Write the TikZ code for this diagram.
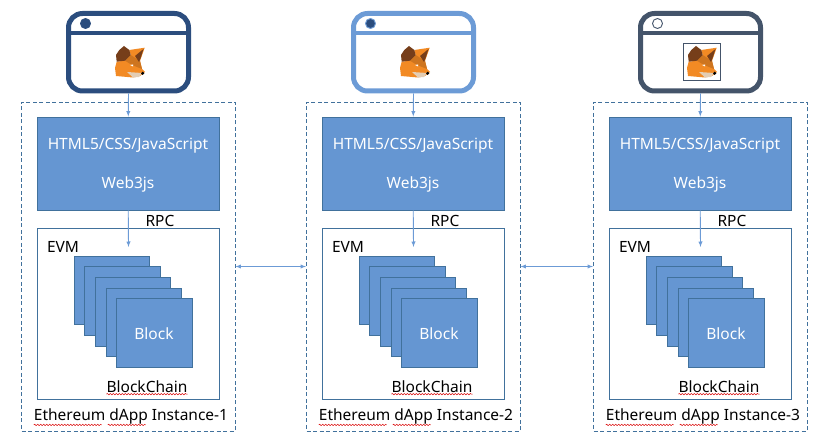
\documentclass[tikz,border=0pt]{standalone}
\usepackage{fontspec}
\setmainfont{Noto Sans}
\usetikzlibrary{calc}
\usetikzlibrary{decorations.pathmorphing}
\definecolor{boxblue}{HTML}{6596D2}
\definecolor{edgeblue}{HTML}{41719C}
\definecolor{linkblue}{HTML}{6C9BD6}
\definecolor{navy}{HTML}{2B4D7E}
\definecolor{slate}{HTML}{44546A}
\definecolor{foxorange}{HTML}{F28A24}
\definecolor{foxbrown}{HTML}{763E1A}
\definecolor{foxchin}{HTML}{E3CDB4}

% fox head, drawn around the current origin
\newcommand{\foxhead}[1]{
\fill[foxorange] ($(#1)+(-13.3,-0.3)$)--($(#1)+(-5,-1.3)$)--($(#1)+(0.7,-7)$)--($(#1)+(-0.7,-12)$)--($(#1)+(14.7,-14.3)$)--($(#1)+(10,-1)$)--($(#1)+(12,7)$)--($(#1)+(15,10)$)--($(#1)+(10,14)$)--($(#1)+(3,15.5)$)--($(#1)+(-14,14)$)--($(#1)+(-15,6)$)--cycle;
\fill[foxorange!85!black] ($(#1)+(-5,-1.3)$)--($(#1)+(0.7,-7)$)--($(#1)+(10,-1)$)--($(#1)+(12,7)$)--($(#1)+(2,3)$)--cycle;
\fill[foxbrown] ($(#1)+(-6,-16)$)--($(#1)+(-0.7,-12)$)--($(#1)+(0.7,-7)$)--($(#1)+(-5,-1.3)$)--($(#1)+(-13.3,-0.3)$)--($(#1)+(-14,-7)$)--($(#1)+(-10.7,-12)$)--cycle;
\fill[foxbrown] ($(#1)+(13.5,-13)$)--($(#1)+(5,-6)$)--($(#1)+(9,0)$)--($(#1)+(11,-5)$)--cycle;
\fill[foxchin] ($(#1)+(-3,10)$)--($(#1)+(12,11)$)--($(#1)+(9,15)$)--($(#1)+(3,15.5)$)--cycle;
\fill[white] ($(#1)+(0,3)$)--($(#1)+(3,2.5)$)--($(#1)+(3,4.5)$)--cycle;
\fill[black] ($(#1)+(12.7,11.3)$) circle (1.7);
}

\begin{document}
\begin{tikzpicture}[x=1pt,y=-1pt]
\tikzstyle{window} =[rectangle,rounded corners=14pt,line width=5pt,fill=white,inner sep=0pt,minimum width=120pt,minimum height=77.5pt]
\tikzstyle{instance} =[rectangle,dash pattern=on 4pt off 2.5pt,draw=edgeblue,line width=0.9pt,inner sep=0pt,minimum width=213.5pt,minimum height=329pt]
\tikzstyle{webapp} =[rectangle,draw=edgeblue,line width=0.9pt,fill=boxblue,inner sep=0pt,minimum width=182.5pt,minimum height=93pt]
\tikzstyle{chain} =[rectangle,draw=edgeblue,line width=0.9pt,inner sep=0pt,minimum width=182.5pt,minimum height=171pt]
\tikzstyle{block} =[rectangle,draw=edgeblue,line width=0.9pt,fill=boxblue,text=white,inner sep=0pt,minimum width=75.5pt,minimum height=68.5pt,font=\fontsize{15.5}{18}\selectfont]
\tikzstyle{label} =[inner sep=0pt,text=black,font=\fontsize{15.5}{18}\selectfont]
\tikzstyle{link} =[draw=linkblue,line width=0.9pt]
\tikzstyle{squiggle} =[draw=red!85!black,line width=0.5pt,decorate,decoration={snake,amplitude=0.7pt,segment length=3pt}]

\useasboundingbox (0,0) rectangle (831,441);

\foreach \i/\dx/\wincol/\dotcol in {1/0/navy/navy,2/285/linkblue/navy,3/572/slate/white}{
\begin{scope}[xshift=\dx pt]
\node[window,draw=\wincol](win\i) at (128.5,52.25) {};
\draw[\wincol,line width=3.5pt] ($(win\i.north west)+(2.5,22)$)--($(win\i.north east)+(-2.5,22)$);
\node[circle,draw=\wincol,line width=0.9pt,fill=\dotcol,inner sep=0pt,minimum size=10pt](dot\i) at (85.5,23.5) {};

\node[instance](inst\i) at (128.25,266.5) {};
\node[webapp](web\i) at (128.25,163.5) {};
\node[label,text=white](html\i) at (128,146) {HTML5/CSS/JavaScript};
\node[label,text=white](webjs\i) at (128,184) {Web3js};
\node[chain](chain\i) at (128.25,313.5) {};
\draw[link,-latex] (win\i.south)--(web\i.north);
\coordinate(rpcend\i) at (128.5,247);
\draw[link,-latex] (web\i.south)--(rpcend\i);

\foreach \j/\bx/\by in {1/112/290.5,2/122.5/301,3/133/312,4/144/322.5}{
\node[block](block\i\j) at (\bx,\by) {};
}
\node[block](block\i5) at (154.5,333) {};
\node[label,text=white](blocktext\i) at (154,334) {Block};

\node[label](rpc\i) at (160,221) {RPC};
\node[label](evm\i) at (63,247) {EVM};
\node[label](bc\i) at (147,387) {BlockChain};
\node[label](title\i) at (131,416) {Ethereum dApp Instance-\i};
\draw[squiggle] ($(bc\i.south west)+(0,1)$)--($(bc\i.south east)+(0,1)$);
\coordinate(sq\i) at (title\i.south west);
\draw[squiggle] ($(sq\i)+(0,1)$)--($(sq\i)+(68,1)$);
\draw[squiggle] ($(sq\i)+(74,1)$)--($(sq\i)+(112,1)$);
\end{scope}
}

\node[rectangle,draw=slate,line width=0.9pt,fill=white,inner sep=0pt,minimum size=37pt](foxframe) at (701.5,61.5) {};
\foxhead{130,62}
\foxhead{415,62}
\foxhead{702,62}

\draw[link,latex-latex] (inst1.east)--(inst2.west);
\draw[link,latex-latex] (inst2.east)--(inst3.west);
\end{tikzpicture}
\end{document}
